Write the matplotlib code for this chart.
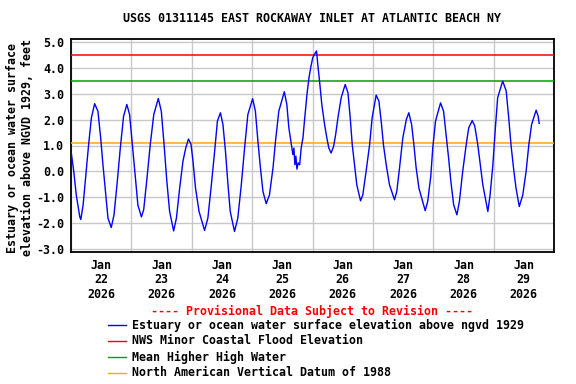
import matplotlib
matplotlib.use("Agg")
import matplotlib.pyplot as plt
import matplotlib.dates as mdates
from matplotlib.lines import Line2D
import pandas as pd

# hours after 2026-01-22 00:00 and water level (ft, NGVD 1929)
hours = [0.1, 1.1, 2.1, 3.5, 3.9, 4.8, 5.8, 7.0, 8.1, 9.4,
         10.7, 11.8, 12.7, 13.7, 14.7, 16.0, 17.1, 18.4, 19.6, 20.9,
         22.2, 23.3, 24.4, 25.6, 26.6, 28.0, 28.9, 30.2, 31.5, 32.9,
         34.7, 35.9, 37.0, 38.1, 39.2, 40.8, 41.9, 43.2, 44.5, 45.6,
         46.7, 47.7, 48.5, 49.5, 50.9, 53.1, 54.4, 55.8, 57.1, 58.2,
         59.4, 60.4, 61.4, 62.4, 63.3, 65.0, 66.3, 67.7, 69.0, 70.3,
         72.2, 73.3, 74.3, 75.3, 76.3, 77.6, 78.9, 80.3, 81.3, 82.6,
         84.8, 85.8, 86.6, 87.6, 88.2, 88.6, 89.0, 89.4, 89.8, 90.3,
         90.9, 91.5, 92.2, 92.8, 93.8, 94.6, 95.4, 96.1, 96.8, 97.6,
         98.1, 98.8, 99.7, 100.8, 101.7, 102.5, 103.4, 104.4, 105.2, 106.1,
         107.4, 109.0, 110.1, 111.0, 111.8, 112.7, 113.6, 115.1, 116.0, 117.3,
         118.7, 119.7, 121.3, 122.4, 123.3, 124.2, 125.3, 126.6, 128.6, 129.5,
         130.6, 131.9, 133.3, 134.3, 135.4, 136.3, 137.2, 138.3, 140.8, 141.8,
         143.0, 143.8, 144.9, 146.9, 148.1, 149.1, 150.1, 151.0, 152.1, 153.4,
         154.4, 155.7, 157.1, 158.1, 159.5, 160.5, 161.7, 162.7, 163.7, 165.7,
         166.6, 167.7, 168.6, 169.6, 171.6, 173.0, 174.0, 174.9, 175.9, 176.9,
         178.2, 179.6, 180.9, 182.0, 183.1, 184.9, 185.7, 186.1]
level = [0.72, 0.0, -0.91, -1.75, -1.85, -1.30, -0.26, 1.03, 2.06, 2.61,
         2.32, 1.29, 0.26, -0.77, -1.80, -2.16, -1.67, -0.38, 0.90, 2.13,
         2.58, 2.19, 1.03, -0.26, -1.30, -1.75, -1.47, -0.26, 1.03, 2.19,
         2.81, 2.32, 1.03, -0.38, -1.54, -2.29, -1.80, -0.64, 0.39, 0.90,
         1.25, 1.05, 0.39, -0.64, -1.54, -2.27, -1.80, -0.51, 0.78, 1.94,
         2.26, 1.81, 0.78, -0.51, -1.54, -2.31, -1.80, -0.51, 0.90, 2.19,
         2.80, 2.32, 1.17, 0.14, -0.77, -1.24, -0.90, 0.14, 1.17, 2.32,
         3.07, 2.58, 1.68, 1.03, 0.65, 0.90, 0.26, 0.59, 0.09, 0.33,
         0.26, 0.90, 1.29, 1.94, 2.97, 3.61, 4.06, 4.38, 4.51, 4.64,
         4.12, 3.48, 2.58, 1.81, 1.29, 0.90, 0.71, 0.97, 1.42, 2.06,
         2.84, 3.35, 3.03, 2.06, 1.03, 0.26, -0.51, -1.13, -0.90, 0.0,
         1.03, 2.06, 2.94, 2.71, 1.94, 1.03, 0.26, -0.51, -1.09, -0.77,
         0.14, 1.29, 2.0, 2.26, 1.81, 1.03, 0.14, -0.64, -1.51, -1.15,
         -0.2, 0.90, 1.94, 2.64, 2.32, 1.42, 0.52, -0.38, -1.28, -1.67,
         -1.15, 0.0, 1.03, 1.68, 1.96, 1.75, 1.03, 0.26, -0.51, -1.54,
         -0.90, 0.26, 1.55, 2.84, 3.48, 3.10, 2.06, 1.03, 0.14, -0.64,
         -1.35, -0.90, 0.0, 1.03, 1.81, 2.36, 2.13, 1.85]

flood_stage = 4.5   # NWS minor coastal flood elevation
mhhw = 3.5          # mean higher high water
navd88 = 1.1        # NAVD 1988

legend_labels = ["Estuary or ocean water surface elevation above ngvd 1929",
                 "NWS Minor Coastal Flood Elevation",
                 "Mean Higher High Water",
                 "North American Vertical Datum of 1988"]
legend_colors = ["#0000ff", "#ff0000", "#00a000", "#ffaa00"]

start = pd.Timestamp("2026-01-22")
times = start + pd.to_timedelta(hours, unit="h")

mono = "DejaVu Sans Mono"
fs = 8.35

fig = plt.figure(figsize=(5.76, 3.84), dpi=100)
ax = fig.add_axes([71 / 576, 1 - 252 / 384, 483 / 576, 213 / 384])

ax.axhline(flood_stage, color=legend_colors[1], lw=1.1, zorder=3)
ax.axhline(mhhw, color=legend_colors[2], lw=1.1, zorder=3)
ax.axhline(navd88, color=legend_colors[3], lw=1.1, zorder=3)
ax.plot(times, level, color=legend_colors[0], lw=1.0, zorder=4)

ax.set_xlim(start, start + pd.Timedelta(days=8))
ax.set_ylim(-3.1, 5.1)

ax.set_yticks(range(-3, 6))
ax.yaxis.set_major_formatter(matplotlib.ticker.FormatStrFormatter("%.1f"))
ax.xaxis.set_major_locator(mdates.HourLocator(byhour=[12]))
ax.xaxis.set_major_formatter(mdates.DateFormatter("%b\n%d\n%Y"))
ax.xaxis.set_minor_locator(mdates.DayLocator())

ax.grid(True, axis="y", color="#c8c8c8", lw=1.0)
ax.grid(True, axis="x", which="minor", color="#c8c8c8", lw=1.0)
ax.grid(False, axis="x", which="major")
ax.set_axisbelow(True)

ax.tick_params(axis="both", which="both", length=0)
ax.tick_params(axis="y", pad=5)
ax.tick_params(axis="x", pad=5)
for lab in ax.get_xticklabels() + ax.get_yticklabels():
    lab.set_fontfamily(mono)
    lab.set_fontweight("bold")
    lab.set_fontsize(fs)
for lab in ax.get_xticklabels():
    lab.set_linespacing(1.15)

for sp in ax.spines.values():
    sp.set_linewidth(1.3)
    sp.set_color("black")

ax.set_ylabel("Estuary or ocean water surface\nelevation above NGVD 1929, feet",
              family=mono, fontweight="bold", fontsize=fs, linespacing=1.2,
              va="center")
ax.yaxis.set_label_coords(-0.105, 0.49)

fig.text(312 / 576, 1 - 19 / 384, "USGS 01311145 EAST ROCKAWAY INLET AT ATLANTIC BEACH NY",
         ha="center", va="center", family=mono, fontweight="bold", fontsize=fs)
fig.text(312 / 576, 1 - 311 / 384, "---- Provisional Data Subject to Revision ----",
         ha="center", va="center", family=mono, fontweight="bold", fontsize=fs,
         color="#ff0000")

for i, (lbl, col) in enumerate(zip(legend_labels, legend_colors)):
    yy = 1 - (325 + 16 * i) / 384
    fig.add_artist(Line2D([108 / 576, 126 / 576], [yy, yy], color=col, lw=1.0,
                          transform=fig.transFigure))
    fig.text(132 / 576, yy, lbl, ha="left", va="center", family=mono,
             fontweight="bold", fontsize=fs)

fig.savefig("out.png", dpi=100)
